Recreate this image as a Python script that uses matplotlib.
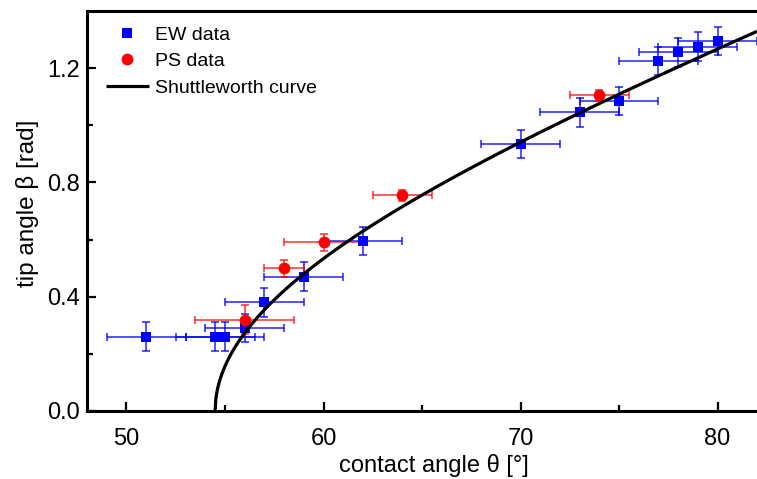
import numpy as np
import matplotlib
matplotlib.use("Agg")
import matplotlib.pyplot as plt

plt.rcParams['font.family'] = ['Liberation Sans', 'DejaVu Sans']

# EW measurements: contact angle (deg), tip angle (rad), uncertainties
ew_theta = [51, 54.5, 55, 56, 57, 59, 62, 70, 73, 75, 77, 78, 79, 80]
ew_beta = [0.26, 0.26, 0.26, 0.29, 0.38, 0.47, 0.595, 0.935, 1.045, 1.085, 1.225, 1.255, 1.275, 1.295]
ew_theta_err = [2, 2, 2, 2, 2, 2, 2, 2, 2, 2, 2, 2, 2, 2]
ew_beta_err = [0.05] * 14

# PS measurements
ps_theta = [56, 58, 60, 64, 74]
ps_beta = [0.32, 0.50, 0.59, 0.755, 1.105]
ps_theta_err = [2.5, 1, 2, 1.5, 1.5]
ps_beta_err = [0.05, 0.03, 0.03, 0.02, 0.02]

# Shuttleworth–Bailey relation: cos(beta) = cos(theta) / cos(theta_0)
theta_0 = 54.5
theta_max = 82.0

xticks = [50, 60, 70, 80]
yticks = [0.0, 0.4, 0.8, 1.2]

fig = plt.figure(figsize=(7.57, 4.79), dpi=100)
ax = fig.add_axes([0.115, 0.142, 0.885, 0.835])

blue = '#0000ff'
red = '#ff0000'

ax.errorbar(ew_theta, ew_beta, xerr=ew_theta_err, yerr=ew_beta_err, fmt='none',
            ecolor=blue, elinewidth=1.2, capsize=3, capthick=1.2, zorder=2, alpha=0.8)
ax.errorbar(ps_theta, ps_beta, xerr=ps_theta_err, yerr=ps_beta_err, fmt='none',
            ecolor=red, elinewidth=1.2, capsize=3, capthick=1.2, zorder=3, alpha=0.75)
ax.plot(ew_theta, ew_beta, 's', color=blue, markersize=7.5, markeredgewidth=0,
        label='EW data', zorder=4)
ax.plot(ps_theta, ps_beta, 'o', color=red, markersize=8.5, markeredgewidth=0,
        label='PS data', zorder=5)

th = np.linspace(theta_0, theta_max, 800)
ratio = np.clip(np.cos(np.radians(th)) / np.cos(np.radians(theta_0)), -1, 1)
beta_curve = np.arccos(ratio)
ax.plot(th, beta_curve, '-', color='black', linewidth=2.3, label='Shuttleworth curve',
        zorder=6, solid_capstyle='butt')

ax.set_xlim(48, 82)
ax.set_ylim(0, 1.4)
ax.set_xticks(xticks)
ax.set_yticks(yticks)
ax.set_xticks([55, 65, 75], minor=True)
ax.set_yticks([0.2, 0.6, 1.0], minor=True)
ax.set_xticklabels([str(v) for v in xticks])
ax.set_yticklabels([f'{v:.1f}' for v in yticks])
ax.tick_params(which='major', direction='in', length=6.5, width=1.6, labelsize=17)
ax.tick_params(axis='x', which='major', pad=12)
ax.tick_params(axis='y', which='major', pad=5)
ax.tick_params(which='minor', direction='in', length=4, width=1.6)
ax.tick_params(axis='y', which='both', right=False)
ax.tick_params(axis='x', which='both', top=False)

for side in ['left', 'bottom', 'top']:
    ax.spines[side].set_linewidth(2.2)
ax.spines['right'].set_visible(False)

ax.set_xlabel('contact angle θ [°]', fontsize=17)
ax.set_ylabel('tip angle β [rad]', fontsize=17.5)
ax.xaxis.set_label_coords(0.518, -0.108)
ax.yaxis.set_label_coords(-0.072, 0.52)

leg = ax.legend(loc='upper left', bbox_to_anchor=(0.028, 0.962), frameon=False, fontsize=14,
                handlelength=2.2, handletextpad=0.35, labelspacing=0.45,
                borderaxespad=0.0, borderpad=0.0)

fig.savefig('out.png', dpi=100)
